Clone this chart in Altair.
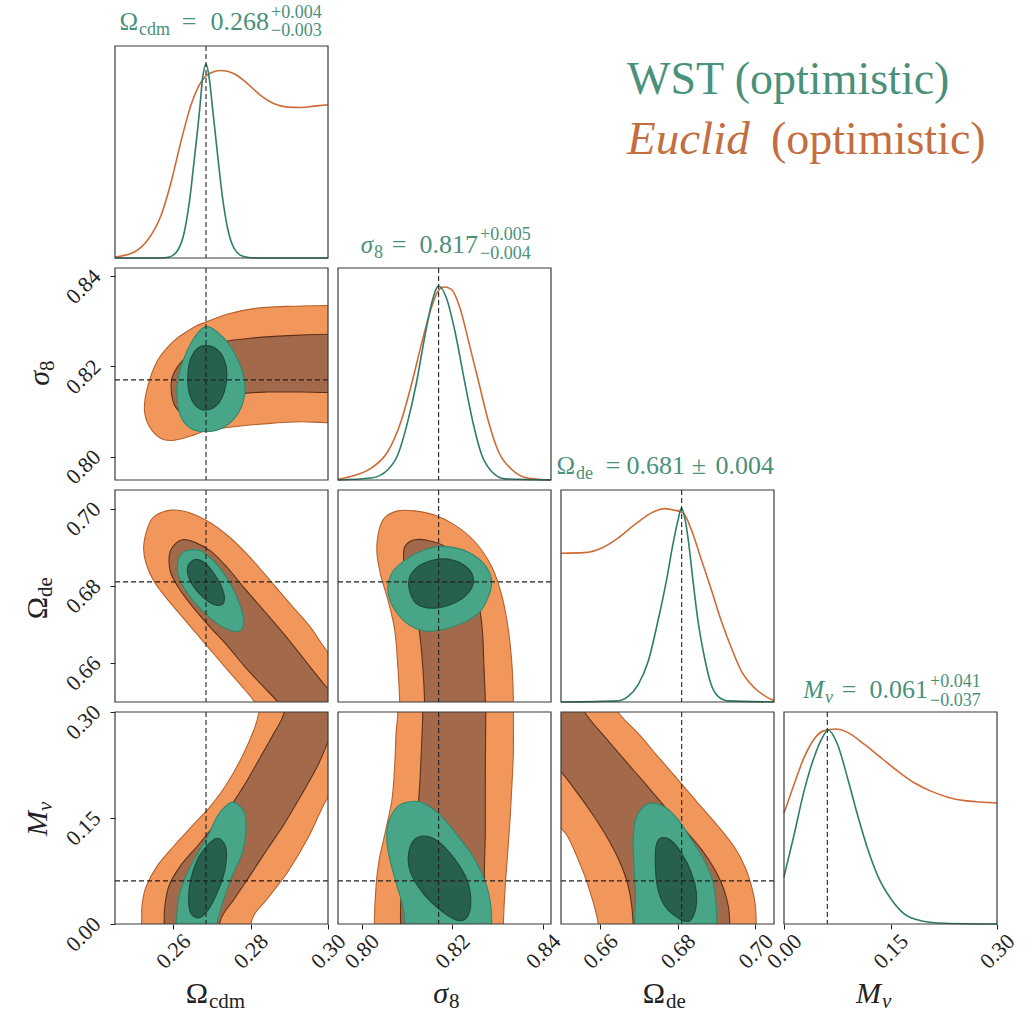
import altair as alt
import pandas as pd

# ---------------------------------------------------------------------------
# Parameters: plotting ranges, tick positions and fiducial values
# ---------------------------------------------------------------------------
params = ["cdm", "s8", "de", "mnu"]
ranges = {
    "cdm": [0.245, 0.300],
    "s8": [0.7948, 0.8418],
    "de": [0.6499, 0.7048],
    "mnu": [0.0, 0.30],
}
tick_values = {
    "cdm": [0.26, 0.28, 0.30],
    "s8": [0.80, 0.82, 0.84],
    "de": [0.66, 0.68, 0.70],
    "mnu": [0.00, 0.15, 0.30],
}
fiducial = {"cdm": 0.2685, "s8": 0.817, "de": 0.681, "mnu": 0.061}

# ---------------------------------------------------------------------------
# 1D marginal posteriors (value, relative density)
# ---------------------------------------------------------------------------
cdm_wst = [(0.245, 0), (0.2569, 0), (0.2590, 0.005), (0.2612, 0.040), (0.2629, 0.134),
           (0.2642, 0.289), (0.2655, 0.512), (0.2668, 0.753), (0.2676, 0.924), (0.2685, 1.0),
           (0.2693, 0.933), (0.2702, 0.770), (0.2715, 0.530), (0.2728, 0.306), (0.2741, 0.151),
           (0.2758, 0.048), (0.2780, 0.009), (0.2809, 0), (0.300, 0)]
cdm_euclid = [(0.245, 0.005), (0.2500, 0.031), (0.2534, 0.091), (0.2569, 0.220), (0.2595, 0.392),
              (0.2620, 0.598), (0.2646, 0.787), (0.2672, 0.907), (0.2698, 0.955), (0.2724, 0.967),
              (0.2758, 0.950), (0.2792, 0.899), (0.2826, 0.838), (0.2861, 0.795), (0.2896, 0.778),
              (0.2930, 0.776), (0.2964, 0.783), (0.300, 0.790)]
s8_wst = [(0.7948, 0), (0.8021, 0.01), (0.8058, 0.053), (0.8080, 0.130), (0.8102, 0.302),
          (0.8121, 0.500), (0.8139, 0.733), (0.8154, 0.905), (0.8170, 1.0), (0.8187, 0.940),
          (0.8206, 0.767), (0.8228, 0.500), (0.8247, 0.285), (0.8265, 0.130), (0.8287, 0.044),
          (0.8317, 0.006), (0.8418, 0)]
s8_euclid = [(0.7948, 0.004), (0.7976, 0.018), (0.8021, 0.061), (0.8058, 0.147), (0.8087, 0.302),
             (0.8110, 0.492), (0.8132, 0.699), (0.8154, 0.888), (0.8169, 0.974), (0.8182, 0.995),
             (0.8198, 0.983), (0.8217, 0.888), (0.8236, 0.716), (0.8258, 0.509), (0.8280, 0.302),
             (0.8302, 0.147), (0.8332, 0.053), (0.8369, 0.009), (0.8418, 0)]
de_wst = [(0.6499, 0), (0.6646, 0.006), (0.6672, 0.029), (0.6698, 0.090), (0.6724, 0.211),
          (0.6749, 0.419), (0.6771, 0.628), (0.6788, 0.819), (0.6801, 0.940), (0.6809, 1.0),
          (0.6818, 0.949), (0.6827, 0.836), (0.6839, 0.628), (0.6852, 0.419), (0.6869, 0.228),
          (0.6886, 0.090), (0.6904, 0.029), (0.6929, 0.006), (0.7048, 0)]
de_euclid = [(0.6499, 0.767), (0.6560, 0.770), (0.6603, 0.793), (0.6646, 0.845), (0.6689, 0.914),
             (0.6732, 0.975), (0.6766, 0.997), (0.6792, 0.989), (0.6814, 0.975), (0.6835, 0.888),
             (0.6861, 0.732), (0.6887, 0.576), (0.6912, 0.419), (0.6938, 0.280), (0.6964, 0.159),
             (0.6998, 0.072), (0.7048, 0.006)]
mnu_wst = [(0.0, 0.243), (0.0141, 0.459), (0.0282, 0.685), (0.0423, 0.858), (0.0542, 0.962),
           (0.0621, 1.0), (0.0753, 0.927), (0.0894, 0.754), (0.1035, 0.563), (0.1176, 0.390),
           (0.1317, 0.251), (0.1505, 0.130), (0.1693, 0.052), (0.1928, 0.017), (0.2257, 0.004),
           (0.30, 0)]
mnu_euclid = [(0.0, 0.572), (0.0141, 0.719), (0.0282, 0.858), (0.0423, 0.953), (0.0564, 0.997),
              (0.0729, 1.005), (0.0894, 0.988), (0.1129, 0.927), (0.1364, 0.858), (0.1599, 0.789),
              (0.1834, 0.728), (0.2069, 0.685), (0.2305, 0.654), (0.2539, 0.636), (0.2774, 0.629),
              (0.30, 0.624)]

# ---------------------------------------------------------------------------
# 2D credible-region outlines (x, y), 95% and 68% for each survey
# ---------------------------------------------------------------------------
cdm_s8_euc95 = [(0.2526, 0.8103), (0.2534, 0.8154), (0.2560, 0.8213), (0.2603, 0.8257),
                (0.2655, 0.8287), (0.2685, 0.8298), (0.2741, 0.8316), (0.2809, 0.8328),
                (0.2896, 0.8333), (0.2999, 0.8335), (0.315, 0.8336), (0.315, 0.8074),
                (0.2999, 0.8075), (0.2930, 0.8077), (0.2844, 0.8073), (0.2758, 0.8066),
                (0.2685, 0.8057), (0.2655, 0.8048), (0.2603, 0.8036), (0.2569, 0.8040),
                (0.2539, 0.8066)]
cdm_s8_euc68 = [(0.2595, 0.8162), (0.2603, 0.8187), (0.2625, 0.8213), (0.2655, 0.8232),
                (0.2685, 0.8241), (0.2741, 0.8256), (0.2809, 0.8263), (0.2896, 0.8268),
                (0.2999, 0.8271), (0.315, 0.8272), (0.315, 0.8142), (0.2999, 0.8142),
                (0.2930, 0.8143), (0.2844, 0.8143), (0.2784, 0.8140), (0.2741, 0.8129),
                (0.2685, 0.8107), (0.2663, 0.8099), (0.2633, 0.8094), (0.2612, 0.8103),
                (0.2599, 0.8125)]
cdm_s8_wst95 = [(0.2685, 0.8288), (0.2715, 0.8276), (0.2749, 0.8243), (0.2775, 0.8198),
                (0.2786, 0.8154), (0.2780, 0.8118), (0.2758, 0.8084), (0.2724, 0.8062),
                (0.2685, 0.8055), (0.2646, 0.8062), (0.2620, 0.8088), (0.2610, 0.8132),
                (0.2613, 0.8176), (0.2633, 0.8228), (0.2659, 0.8269)]
cdm_s8_wst68 = [(0.2685, 0.8246), (0.2711, 0.8239), (0.2731, 0.8217), (0.2739, 0.8184),
                (0.2732, 0.8143), (0.2713, 0.8114), (0.2685, 0.8103), (0.2659, 0.8112),
                (0.2642, 0.8140), (0.2638, 0.8176), (0.2644, 0.8213), (0.2662, 0.8239)]

cdm_de_euc95 = [(0.2524, 0.6901), (0.2534, 0.6949), (0.2551, 0.6979), (0.2595, 0.6996),
                (0.2646, 0.6988), (0.2698, 0.6962), (0.2749, 0.6923), (0.2801, 0.6871),
                (0.2853, 0.6811), (0.2904, 0.6751), (0.2956, 0.6691), (0.3001, 0.6626),
                (0.3128, 0.6467), (0.3128, 0.6372), (0.2860, 0.6428), (0.2810, 0.6500),
                (0.2784, 0.6532), (0.2732, 0.6592), (0.2680, 0.6653), (0.2629, 0.6713),
                (0.2586, 0.6764), (0.2551, 0.6811), (0.2530, 0.6859)]
cdm_de_euc68 = [(0.2590, 0.6876), (0.2599, 0.6901), (0.2624, 0.6919), (0.2655, 0.6913),
                (0.2698, 0.6889), (0.2741, 0.6846), (0.2784, 0.6794), (0.2836, 0.6734),
                (0.2887, 0.6674), (0.2939, 0.6609), (0.2990, 0.6545), (0.3042, 0.6485),
                (0.3042, 0.6407), (0.2922, 0.6441), (0.2870, 0.6500), (0.2827, 0.6545),
                (0.2784, 0.6592), (0.2737, 0.6648), (0.2690, 0.6699), (0.2646, 0.6751),
                (0.2612, 0.6798), (0.2593, 0.6837)]
cdm_de_wst95 = [(0.2646, 0.6893), (0.2675, 0.6889), (0.2714, 0.6854), (0.2749, 0.6803),
                (0.2775, 0.6743), (0.2782, 0.6699), (0.2767, 0.6682), (0.2732, 0.6691),
                (0.2690, 0.6722), (0.2646, 0.6768), (0.2616, 0.6820), (0.2612, 0.6859),
                (0.2624, 0.6885)]
cdm_de_wst68 = [(0.2656, 0.6868), (0.2682, 0.6859), (0.2708, 0.6828), (0.2728, 0.6790),
                (0.2732, 0.6760), (0.2719, 0.6749), (0.2693, 0.6758), (0.2663, 0.6785),
                (0.2641, 0.6820), (0.2638, 0.6850)]

cdm_mnu_euc95 = [(0.2517, -0.06), (0.2519, 0.0023), (0.2520, 0.0267), (0.2530, 0.0525),
                 (0.2560, 0.0830), (0.2603, 0.1111), (0.2650, 0.1392), (0.2698, 0.1674),
                 (0.2741, 0.2002), (0.2779, 0.2377), (0.2809, 0.2752), (0.2822, 0.2996),
                 (0.2844, 0.36), (0.3080, 0.36), (0.3059, 0.2424), (0.2990, 0.1697),
                 (0.2947, 0.1205), (0.2896, 0.0736), (0.2844, 0.0361), (0.2802, 0.0023),
                 (0.2810, -0.06)]
cdm_mnu_euc68 = [(0.2577, -0.06), (0.2577, 0.0023), (0.2579, 0.0267), (0.2590, 0.0549),
                 (0.2620, 0.0830), (0.2664, 0.1111), (0.2706, 0.1392), (0.2749, 0.1674),
                 (0.2788, 0.2002), (0.2827, 0.2377), (0.2861, 0.2705), (0.2887, 0.2996),
                 (0.2909, 0.36), (0.3110, 0.36), (0.3042, 0.3080), (0.3001, 0.2588),
                 (0.2973, 0.2236), (0.2930, 0.1814), (0.2887, 0.1416), (0.2844, 0.1064),
                 (0.2802, 0.0713), (0.2759, 0.0361), (0.2721, 0.0023), (0.2717, -0.06)]
cdm_mnu_wst95 = [(0.2757, 0.1721), (0.2784, 0.1580), (0.2788, 0.1299), (0.2779, 0.1018),
                 (0.2757, 0.0736), (0.2737, 0.0455), (0.2721, 0.0173), (0.2710, -0.0108),
                 (0.2710, -0.05), (0.2610, -0.05), (0.2610, 0.0127), (0.2616, 0.0408),
                 (0.2634, 0.0689), (0.2660, 0.0970), (0.2690, 0.1252), (0.2715, 0.1533),
                 (0.2737, 0.1674)]
cdm_mnu_wst68 = [(0.2721, 0.1205), (0.2736, 0.1088), (0.2737, 0.0877), (0.2728, 0.0642),
                 (0.2711, 0.0408), (0.2690, 0.0197), (0.2668, 0.0089), (0.2646, 0.0150),
                 (0.2640, 0.0361), (0.2646, 0.0642), (0.2664, 0.0924), (0.2688, 0.1111),
                 (0.2706, 0.1196)]

s8_de_euc95 = [(0.8084, 0.640), (0.8084, 0.6501), (0.8080, 0.6592), (0.8073, 0.6686),
               (0.8058, 0.6764), (0.8043, 0.6824), (0.8034, 0.6884), (0.8037, 0.6936),
               (0.8050, 0.6975), (0.8080, 0.6994), (0.8117, 0.6994), (0.8161, 0.6983),
               (0.8206, 0.6957), (0.8250, 0.6914), (0.8287, 0.6850), (0.8310, 0.6772),
               (0.8324, 0.6686), (0.8332, 0.6592), (0.8335, 0.6501), (0.8335, 0.640)]
s8_de_euc68 = [(0.8139, 0.640), (0.8139, 0.6501), (0.8135, 0.6592), (0.8128, 0.6678),
               (0.8117, 0.6747), (0.8102, 0.6815), (0.8093, 0.6867), (0.8096, 0.6902),
               (0.8117, 0.6919), (0.8147, 0.6917), (0.8184, 0.6902), (0.8221, 0.6867),
               (0.8247, 0.6815), (0.8260, 0.6747), (0.8267, 0.6678), (0.8270, 0.6592),
               (0.8273, 0.6501), (0.8273, 0.640)]
s8_de_wst95 = [(0.8176, 0.6902), (0.8228, 0.6891), (0.8269, 0.6858), (0.8287, 0.6815),
               (0.8280, 0.6772), (0.8258, 0.6729), (0.8213, 0.6699), (0.8154, 0.6682),
               (0.8110, 0.6695), (0.8073, 0.6738), (0.8058, 0.6790), (0.8069, 0.6837),
               (0.8102, 0.6871), (0.8139, 0.6893)]
s8_de_wst68 = [(0.8104, 0.6798), (0.8113, 0.6837), (0.8147, 0.6863), (0.8191, 0.6869),
               (0.8232, 0.6848), (0.8247, 0.6815), (0.8235, 0.6781), (0.8202, 0.6754),
               (0.8158, 0.6742), (0.8121, 0.6754)]

s8_mnu_euc95 = [(0.8080, 0.36), (0.8080, 0.2996), (0.8076, 0.2696), (0.8073, 0.2227),
                (0.8067, 0.1758), (0.8052, 0.1289), (0.8039, 0.0914), (0.8032, 0.0539),
                (0.8028, 0.0), (0.8028, -0.06), (0.8313, -0.06), (0.8313, 0.0),
                (0.8317, 0.0539), (0.8323, 0.1055), (0.8328, 0.1524), (0.8332, 0.1993),
                (0.8335, 0.2461), (0.8335, 0.2996), (0.8335, 0.36)]
s8_mnu_euc68 = [(0.8135, 0.36), (0.8135, 0.2996), (0.8132, 0.2461), (0.8126, 0.1758),
                (0.8115, 0.1289), (0.8098, 0.0820), (0.8087, 0.0352), (0.8086, 0.0),
                (0.8086, -0.06), (0.8273, -0.06), (0.8273, 0.0), (0.8271, 0.0727),
                (0.8273, 0.1289), (0.8273, 0.1993), (0.8274, 0.2996), (0.8274, 0.36)]
s8_mnu_wst95 = [(0.8110, 0.1734), (0.8139, 0.1702), (0.8176, 0.1524), (0.8213, 0.1242),
                (0.8250, 0.0914), (0.8276, 0.0539), (0.8286, 0.0211), (0.8287, -0.0117),
                (0.8287, -0.05), (0.8096, -0.05), (0.8096, 0.0), (0.8091, 0.0258),
                (0.8078, 0.0539), (0.8064, 0.0867), (0.8056, 0.1149), (0.8059, 0.1430),
                (0.8080, 0.1664)]
s8_mnu_wst68 = [(0.8143, 0.1242), (0.8173, 0.1149), (0.8206, 0.0914), (0.8232, 0.0633),
                (0.8241, 0.0352), (0.8235, 0.0117), (0.8217, 0.0047), (0.8191, 0.0117),
                (0.8154, 0.0305), (0.8124, 0.0539), (0.8106, 0.0774), (0.8104, 0.1008),
                (0.8117, 0.1196)]

de_mnu_euc95 = [(0.6440, 0.36), (0.6570, 0.36), (0.6646, 0.2996), (0.6698, 0.2696),
                (0.6749, 0.2368), (0.6801, 0.2039), (0.6852, 0.1711), (0.6904, 0.1383),
                (0.6947, 0.1078), (0.6974, 0.0797), (0.6991, 0.0516), (0.7000, 0.0258),
                (0.7002, 0.0), (0.7002, -0.06), (0.6595, -0.06), (0.6595, 0.0),
                (0.6569, 0.0539), (0.6543, 0.0914), (0.6518, 0.1219), (0.6499, 0.1360),
                (0.6440, 0.1758)]
de_mnu_euc68 = [(0.6440, 0.36), (0.6500, 0.36), (0.6560, 0.2996), (0.6612, 0.2649),
                (0.6663, 0.2321), (0.6715, 0.1993), (0.6766, 0.1664), (0.6818, 0.1336),
                (0.6861, 0.1055), (0.6895, 0.0774), (0.6917, 0.0516), (0.6930, 0.0258),
                (0.6934, 0.0), (0.6934, -0.06), (0.6685, -0.06), (0.6685, 0.0),
                (0.6676, 0.0445), (0.6655, 0.0820), (0.6621, 0.1196), (0.6578, 0.1571),
                (0.6535, 0.1899), (0.6499, 0.2157), (0.6440, 0.2508)]
de_mnu_wst95 = [(0.6732, 0.1711), (0.6766, 0.1655), (0.6801, 0.1477), (0.6835, 0.1196),
                (0.6869, 0.0891), (0.6891, 0.0586), (0.6899, 0.0258), (0.6901, -0.0117),
                (0.6901, -0.05), (0.6689, -0.05), (0.6689, 0.0), (0.6691, 0.0445),
                (0.6687, 0.0820), (0.6685, 0.1196), (0.6691, 0.1477), (0.6708, 0.1641)]
de_mnu_wst68 = [(0.6758, 0.1219), (0.6782, 0.1186), (0.6809, 0.1008), (0.6835, 0.0727),
                (0.6848, 0.0445), (0.6846, 0.0211), (0.6831, 0.0047), (0.6805, 0.0070),
                (0.6766, 0.0258), (0.6747, 0.0539), (0.6742, 0.0914), (0.6745, 0.1125)]

legend_wst = "WST (optimistic)"
legend_euclid = ("Euclid", "(optimistic)")

# ---------------------------------------------------------------------------
# Styling
# ---------------------------------------------------------------------------
FONT = "Liberation Serif"
W, H, GAP = 213, 212, 10
EUC_95, EUC_68 = "#f2975c", "#a2694b"
EUC_95_EDGE, EUC_68_EDGE = "#b5612d", "#5e3118"
WST_95, WST_68 = "#49a588", "#27604d"
WST_95_EDGE, WST_68_EDGE = "#2f8a6c", "#1d4a3b"
EUC_LINE, WST_LINE = "#cf6b35", "#2e7e69"
WST_TEXT, EUC_TEXT = "#4a917a", "#c36e41"
INK = "#222222"

marginals = {
    "cdm": (cdm_euclid, cdm_wst),
    "s8": (s8_euclid, s8_wst),
    "de": (de_euclid, de_wst),
    "mnu": (mnu_euclid, mnu_wst),
}
regions = {
    ("cdm", "s8"): (cdm_s8_euc95, cdm_s8_euc68, cdm_s8_wst95, cdm_s8_wst68),
    ("cdm", "de"): (cdm_de_euc95, cdm_de_euc68, cdm_de_wst95, cdm_de_wst68),
    ("cdm", "mnu"): (cdm_mnu_euc95, cdm_mnu_euc68, cdm_mnu_wst95, cdm_mnu_wst68),
    ("s8", "de"): (s8_de_euc95, s8_de_euc68, s8_de_wst95, s8_de_wst68),
    ("s8", "mnu"): (s8_mnu_euc95, s8_mnu_euc68, s8_mnu_wst95, s8_mnu_wst68),
    ("de", "mnu"): (de_mnu_euc95, de_mnu_euc68, de_mnu_wst95, de_mnu_wst68),
}
region_styles = [(EUC_95, EUC_95_EDGE), (EUC_68, EUC_68_EDGE),
                 (WST_95, WST_95_EDGE), (WST_68, WST_68_EDGE)]

# Math-style labels built from pieces: (text, x, y, size, align, italic)
diag_titles = {
    "cdm": [("Ω", 23, -16, 25, "right", False), ("cdm", 24, -11, 18, "left", False),
            ("=", 74, -16, 26, "center", False), ("0.268", 154, -16, 26, "right", False),
            ("+0.004", 156, -28, 18, "left", False), ("−0.003", 156, -10, 18, "left", False)],
    "s8": [("σ", 35, -15, 25, "right", True), ("8", 36, -10, 18, "left", False),
           ("=", 61, -15, 26, "center", False), ("0.817", 140, -15, 26, "right", False),
           ("+0.005", 142, -28, 18, "left", False), ("−0.004", 142, -9, 18, "left", False)],
    "de": [("Ω", 14, -16, 25, "right", False), ("de", 15, -11, 18, "left", False),
           ("=", 52, -16, 26, "center", False), ("0.681", 124, -16, 26, "right", False),
           ("±", 138, -16, 26, "center", False), ("0.004", 213, -16, 26, "right", False)],
    "mnu": [("M", 40, -14, 25, "right", True), ("ν", 41, -9, 18, "left", True),
            ("=", 65, -14, 26, "center", False), ("0.061", 144, -14, 26, "right", False),
            ("+0.041", 146, -25, 18, "left", False), ("−0.037", 146, -6, 18, "left", False)],
}
bottom_titles = {
    "cdm": [("Ω", 93, 291, 30, "right", False), ("cdm", 94, 296, 21, "left", False)],
    "s8": [("σ", 110, 291, 30, "right", True), ("8", 111, 296, 21, "left", False)],
    "de": [("Ω", 104, 291, 30, "right", False), ("de", 105, 296, 21, "left", False)],
    "mnu": [("M", 97, 291, 30, "right", True), ("ν", 98, 296, 21, "left", True)],
}
left_titles = {
    "s8": [("σ", -66, 103, 30, "right", True), ("8", -61, 103, 21, "left", False)],
    "de": [("Ω", -68, 107, 30, "right", False), ("de", -63, 107, 21, "left", False)],
    "mnu": [("M", -68, 99, 30, "right", True), ("ν", -63, 99, 21, "left", True)],
}


def one_row():
    return pd.DataFrame({"k": [0]})


def text_layers(pieces, color, angle=0):
    out = []
    for t, x, y, size, align, italic in pieces:
        kw = dict(text=t, align=align, baseline="alphabetic", font=FONT,
                  fontSize=size, color=color)
        if italic:
            kw["fontStyle"] = "italic"
        if angle:
            kw["angle"] = angle
        out.append(alt.Chart(one_row()).mark_text(**kw)
                   .encode(x=alt.value(x), y=alt.value(y)))
    return out


def scale_for(p):
    return alt.Scale(domain=ranges[p], nice=False, zero=False)


DENSITY = alt.Scale(domain=[0, 1.093], nice=False, zero=False)


def bottom_axis(p):
    return alt.Axis(values=tick_values[p], format=".2f", title="", labelAngle=315,
                    labelAlign="center", labelBaseline="middle", labelPadding=22,
                    tickSize=5, tickColor=INK, domain=False, grid=False,
                    labelFont=FONT, labelFontSize=22, labelColor=INK,
                    labelFlush=False, labelOverlap=False)


def left_axis(p):
    return alt.Axis(values=tick_values[p], format=".2f", title="", labelAngle=315,
                    labelAlign="center", labelBaseline="middle", labelPadding=27,
                    labelOffset=10, tickSize=5, tickColor=INK, domain=False, grid=False,
                    labelFont=FONT, labelFontSize=22, labelColor=INK,
                    labelFlush=False, labelOverlap=False)


def frame():
    return alt.Chart(one_row()).mark_rect(fillOpacity=0, stroke="#3a3a3a", strokeWidth=1.2).encode(
        x=alt.value(0), x2=alt.value(W), y=alt.value(0), y2=alt.value(H))


def panel(i, j):
    px = params[j]
    xs = scale_for(px)
    xaxis = bottom_axis(px) if i == 3 else None
    layers = []
    if i == j:
        ys, yaxis = DENSITY, None
        for pts, col in zip(marginals[px], (EUC_LINE, WST_LINE)):
            df = pd.DataFrame(pts, columns=["x", "y"])
            layers.append(alt.Chart(df).mark_line(color=col, strokeWidth=1.6,
                                                  interpolate="monotone").encode(
                x=alt.X("x:Q", scale=xs, axis=xaxis),
                y=alt.Y("y:Q", scale=ys, axis=yaxis)))
        layers.append(alt.Chart(one_row()).mark_rule(color=INK, strokeDash=[5, 3], strokeWidth=1.1)
                      .encode(x=alt.XDatum(fiducial[px], scale=xs, axis=xaxis)))
        layers += text_layers(diag_titles[px], WST_TEXT)
    else:
        py = params[i]
        ys = scale_for(py)
        yaxis = left_axis(py) if j == 0 else None
        for pts, (fill, edge) in zip(regions[(px, py)], region_styles):
            df = pd.DataFrame(pts, columns=["x", "y"])
            df["i"] = range(len(df))
            layers.append(alt.Chart(df).mark_line(fill=fill, stroke=edge, strokeWidth=1.1,
                                                  interpolate="cardinal-closed", clip=True).encode(
                x=alt.X("x:Q", scale=xs, axis=xaxis),
                y=alt.Y("y:Q", scale=ys, axis=yaxis),
                order="i:Q"))
        layers.append(alt.Chart(one_row()).mark_rule(color=INK, strokeDash=[5, 3], strokeWidth=1.1)
                      .encode(x=alt.XDatum(fiducial[px], scale=xs, axis=xaxis)))
        layers.append(alt.Chart(one_row()).mark_rule(color=INK, strokeDash=[5, 3], strokeWidth=1.1)
                      .encode(y=alt.YDatum(fiducial[py], scale=ys, axis=yaxis)))
        if j == 0:
            layers += text_layers(left_titles[py], INK, angle=270)
    layers.append(frame())
    if i == 3:
        layers += text_layers(bottom_titles[px], INK)
    if i == 0 and j == 0:
        # fixes the outer top-left corner of the figure
        layers.append(alt.Chart(one_row()).mark_rule(color="white", strokeWidth=1).encode(
            x=alt.value(-114), x2=alt.value(-113), y=alt.value(-45), y2=alt.value(-45)))
    return alt.layer(*layers).properties(width=W, height=H)


def blank(extra=()):
    base = alt.Chart(one_row()).mark_point(opacity=0).encode(x=alt.value(0), y=alt.value(0))
    return alt.layer(base, *extra).properties(width=W, height=H)


legend_layers = (
    text_layers([(legend_wst, 66, 48, 46, "left", False)], WST_TEXT)
    + text_layers([(legend_euclid[0], 66, 108, 47, "left", True)], EUC_TEXT)
    + text_layers([(legend_euclid[1], 210, 108, 46, "left", False)], EUC_TEXT)
)

cells = []
for i in range(4):
    for j in range(4):
        if j <= i:
            cells.append(panel(i, j))
        elif i == 0 and j == 2:
            cells.append(blank(legend_layers))
        else:
            cells.append(blank())

chart = alt.concat(*cells, columns=4, spacing=GAP, bounds="flush").properties(
    padding=0
).configure_view(strokeOpacity=0)

chart.save("out.html", embed_options={"renderer": "svg", "actions": False})
